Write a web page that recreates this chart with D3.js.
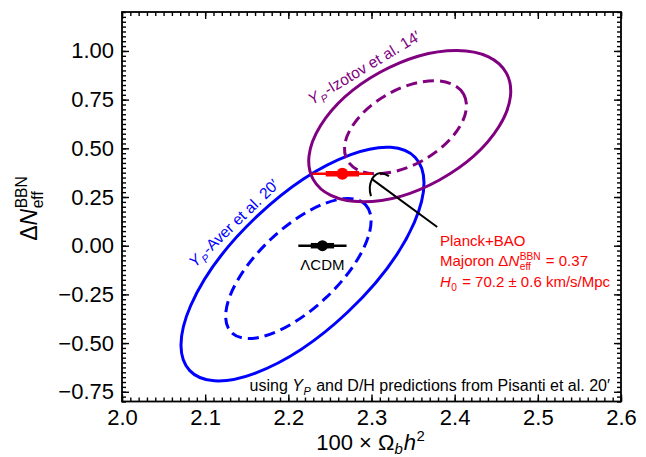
<!DOCTYPE html>
<html>
<head>
<meta charset="utf-8">
<script src="https://cdn.jsdelivr.net/npm/d3@7"></script>
<style>
  body { margin: 0; background: #fff; }
  svg { display: block; font-family: "Liberation Sans", Arial, Helvetica, sans-serif; }
  svg text { white-space: pre; }
</style>
</head>
<body>
<svg id="chart" width="646" height="457"></svg>
<script>
// BBN contours (Y_P + D/H) in the (100 Ωb h², ΔNeff) plane.
// Each contour is given by its four extreme points: [leftmost, top, rightmost, bottom].

const xTicks = [2.0, 2.1, 2.2, 2.3, 2.4, 2.5, 2.6];
const yTicks = [-0.75, -0.5, -0.25, 0, 0.25, 0.5, 0.75, 1.0];

// Aver et al. 20' (outer = solid, inner = dashed)
const averOuter = [[2.0709, -0.5099], [2.3183, 0.5053], [2.3631, 0.3220], [2.1158, -0.6947]];
const averInner = [[2.1257, -0.3558], [2.2741, 0.2501], [2.3006, 0.1063], [2.1479, -0.4688]];

// Izotov et al. 14'
const izotovOuter = [[2.2248, 0.4298], [2.4004, 1.0023], [2.4677, 0.7995], [2.2910, 0.2244]];
const izotovInner = [[2.2681, 0.4914], [2.3727, 0.8457], [2.4148, 0.7276], [2.3078, 0.3682]];

// points with 1σ / 2σ horizontal errors
const lcdm = { x: 2.241, y: 0.0, e1: 0.014, e2: 0.029 };
const majoron = { x: 2.265, y: 0.37, e1: 0.020, e2: 0.036 };
const arrowFrom = [2.379, 0.096];
const arrowTo = [2.3006, 0.342];

const svg = d3.select("#chart");
const W = 646, H = 457;
const margin = { left: 122, right: 25, top: 12, bottom: 55.5 };

const x = d3.scaleLinear().domain([2.0, 2.6]).range([margin.left, W - margin.right]);
const y = d3.scaleLinear().domain([-0.8, 1.2]).range([H - margin.bottom, margin.top]);

const FONT = '"Liberation Sans", Arial, Helvetica, sans-serif';
const BLUE = "#0000ff", PURPLE = "#800080", RED = "#ff0000";

// rich text: strings, {i, sub, sup, subI}
function rich(parent, parts, o) {
  const g = parent.append("g")
    .attr("transform", `translate(${o.x},${o.y}) rotate(${o.rotate || 0})`)
    .attr("fill", o.color || "#000");
  const inner = g.append("g");
  const fs = o.size;
  let cx = 0;
  const put = (t, px, py, size, italic) => {
    const el = inner.append("text")
      .attr("x", px).attr("y", py)
      .attr("font-size", size)
      .attr("font-style", italic ? "italic" : null)
      .text(t);
    return el.node().getComputedTextLength();
  };
  parts.forEach(p => {
    if (typeof p === "string") { cx += put(p, cx, 0, fs, false); return; }
    if (p.i) cx += put(p.i, cx, 0, fs, true) + (p.sub || p.sup ? 0.5 : 0);
    if (p.sub || p.sup) {
      let w = 0;
      if (p.sub) w = Math.max(w, put(p.sub, cx, fs * (o.subDy || 0.28), fs * 0.68, p.subI));
      if (p.sup) w = Math.max(w, put(p.sup, cx, -fs * 0.42, fs * 0.68, false));
      cx += w + 1;
    }
  });
  if (o.anchor === "middle") inner.attr("transform", `translate(${-cx / 2},0)`);
  if (o.anchor === "end") inner.attr("transform", `translate(${-cx},0)`);
  return g;
}

// ---- axes (ticks inward on all four sides) ----
const x0 = x.range()[0], x1 = x.range()[1];
const y0 = y.range()[0], y1 = y.range()[1];
const xMinor = d3.range(2.0, 2.6001, 0.01);
const yMinor = d3.range(-0.8, 1.2001, 0.025);

function styleAxis(g) {
  g.select(".domain").remove();
  g.selectAll("line").attr("stroke", "#000").attr("stroke-width", 1.4);
  g.selectAll("text").attr("font-family", FONT).attr("font-size", 22).attr("fill", "#000");
}

svg.append("g").attr("transform", `translate(0,${y0})`)
  .call(d3.axisBottom(x).tickValues(xMinor).tickSize(-4).tickFormat("")).call(styleAxis);
svg.append("g").attr("transform", `translate(0,${y0})`)
  .call(d3.axisBottom(x).tickValues(xTicks).tickSize(-7).tickPadding(8).tickFormat(d3.format(".1f")))
  .call(styleAxis);
svg.append("g").attr("transform", `translate(0,${y1})`)
  .call(d3.axisTop(x).tickValues(xMinor).tickSize(-4).tickFormat("")).call(styleAxis);
svg.append("g").attr("transform", `translate(0,${y1})`)
  .call(d3.axisTop(x).tickValues(xTicks).tickSize(-7).tickFormat("")).call(styleAxis);

svg.append("g").attr("transform", `translate(${x0},0)`)
  .call(d3.axisLeft(y).tickValues(yMinor).tickSize(-4).tickFormat("")).call(styleAxis);
svg.append("g").attr("transform", `translate(${x0},0)`)
  .call(d3.axisLeft(y).tickValues(yTicks).tickSize(-7).tickPadding(8)
    .tickFormat(d => (d < 0 ? "\u2212" : "") + Math.abs(d).toFixed(2)))
  .call(styleAxis);
svg.append("g").attr("transform", `translate(${x1},0)`)
  .call(d3.axisRight(y).tickValues(yMinor).tickSize(-4).tickFormat("")).call(styleAxis);
svg.append("g").attr("transform", `translate(${x1},0)`)
  .call(d3.axisRight(y).tickValues(yTicks).tickSize(-7).tickFormat("")).call(styleAxis);

svg.append("rect")
  .attr("x", x0).attr("y", y1).attr("width", x1 - x0).attr("height", y0 - y1)
  .attr("fill", "none").attr("stroke", "#000").attr("stroke-width", 1.8);

// ---- contours: ellipse through the four tangent points (in pixel space) ----
function ellipseFrom(ext) {
  const [L, T, R, B] = ext.map(d => [x(d[0]), y(d[1])]);
  const cx = (L[0] + T[0] + R[0] + B[0]) / 4;
  const cy = (L[1] + T[1] + R[1] + B[1]) / 4;
  const hw = (R[0] - L[0]) / 2, hh = (B[1] - T[1]) / 2;
  const sxx = hw * hw, syy = hh * hh;
  const sxy = (((R[1] - L[1]) / 2) * hw + ((B[0] - T[0]) / 2) * hh) / 2;
  const m = (sxx + syy) / 2, r = Math.hypot((sxx - syy) / 2, sxy);
  const theta = 0.5 * Math.atan2(2 * sxy, sxx - syy);
  return { cx, cy, rx: Math.sqrt(m + r), ry: Math.sqrt(m - r), angle: theta * 180 / Math.PI };
}

const plot = svg.append("g");
[
  [averOuter, BLUE, null],
  [averInner, BLUE, "11,6"],
  [izotovOuter, PURPLE, null],
  [izotovInner, PURPLE, "11,6"],
].forEach(([ext, col, dash]) => {
  const e = ellipseFrom(ext);
  plot.append("ellipse")
    .attr("cx", e.cx).attr("cy", e.cy)
    .attr("rx", e.rx).attr("ry", e.ry)
    .attr("transform", `rotate(${e.angle},${e.cx},${e.cy})`)
    .attr("fill", "none")
    .attr("stroke", col)
    .attr("stroke-width", 3)
    .attr("stroke-dasharray", dash);
});

// ---- arrow to Majoron point ----
const ax0 = x(arrowFrom[0]), ay0 = y(arrowFrom[1]);
const ax1 = x(arrowTo[0]), ay1 = y(arrowTo[1]);
plot.append("line")
  .attr("x1", ax0).attr("y1", ay0).attr("x2", ax1).attr("y2", ay1)
  .attr("stroke", "#000").attr("stroke-width", 2);
plot.append("path")
  .attr("d", `M${ax1 + 17},${ay1 - 3} Q${ax1 + 6},${ay1 - 10} ${ax1},${ay1} Q${ax1 - 4},${ay1 + 8} ${ax1 - 1},${ay1 + 17}`)
  .attr("fill", "none").attr("stroke", "#000").attr("stroke-width", 2);

// ---- points with error bars ----
function point(p, col, r) {
  const g = plot.append("g");
  g.append("line")
    .attr("x1", x(p.x - p.e2)).attr("x2", x(p.x + p.e2))
    .attr("y1", y(p.y)).attr("y2", y(p.y))
    .attr("stroke", col).attr("stroke-width", 2.5);
  g.append("line")
    .attr("x1", x(p.x - p.e1)).attr("x2", x(p.x + p.e1))
    .attr("y1", y(p.y)).attr("y2", y(p.y))
    .attr("stroke", col).attr("stroke-width", 5.5);
  g.append("circle")
    .attr("cx", x(p.x)).attr("cy", y(p.y)).attr("r", r).attr("fill", col);
}
point(lcdm, "#000", 5.5);
point(majoron, RED, 6);

// ---- labels ----
svg.append("text")
  .attr("x", x(lcdm.x)).attr("y", y(lcdm.y) + 24)
  .attr("text-anchor", "middle")
  .attr("font-size", 15).attr("font-family", FONT)
  .text("\u039BCDM");

rich(svg, [{ i: "Y", sub: "P", subI: true }, "-Aver et al. 20\u2032"],
  { x: 195, y: 268, size: 15.5, color: BLUE, rotate: -44 });
rich(svg, [{ i: "Y", sub: "P", subI: true }, "-Izotov et al. 14\u2032"],
  { x: 312, y: 105, size: 15.5, color: PURPLE, rotate: -31 });

rich(svg, ["Planck+BAO"], { x: 440, y: 246, size: 15, color: RED });
rich(svg, ["Majoron \u0394", { i: "N", sub: "eff", sup: "BBN" }, " = 0.37"],
  { x: 440, y: 266, size: 15, color: RED });
rich(svg, [{ i: "H", sub: "0" }, " = 70.2 \u00B1 0.6 km/s/Mpc"],
  { x: 440, y: 287, size: 15, color: RED });

rich(svg, ["using ", { i: "Y", sub: "P", subI: true }, " and D/H predictions from Pisanti et al. 20\u2032"],
  { x: 610, y: 391, size: 16, anchor: "end" });

// axis titles
rich(svg, ["100 \u00D7 \u03A9", { sub: "b", subI: true }, { i: "h", sup: "2" }],
  { x: 371, y: 450, size: 22, anchor: "middle", subDy: 0.2 });
rich(svg, ["\u0394", { i: "N", sub: "eff", sup: "BBN" }],
  { x: 37, y: 208, size: 23, anchor: "middle", rotate: -90 });
</script>
</body>
</html>
